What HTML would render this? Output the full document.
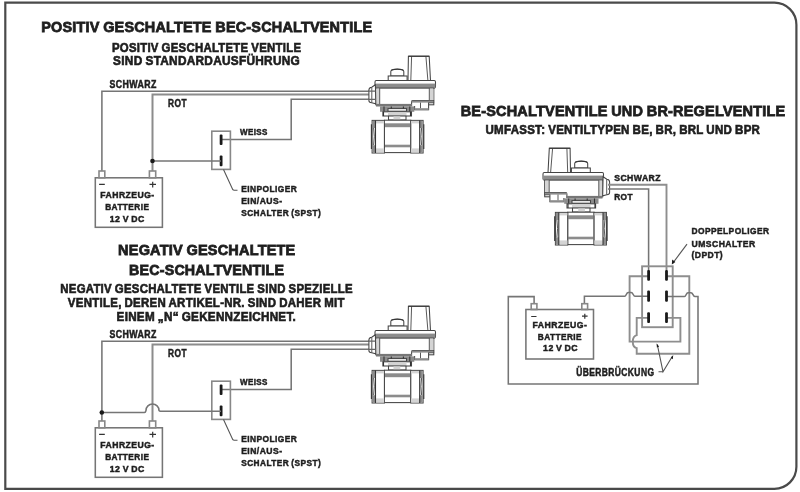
<!DOCTYPE html>
<html><head><meta charset="utf-8">
<style>
html,body{margin:0;padding:0;background:#fff;width:800px;height:492px;overflow:hidden}
svg{display:block;will-change:transform}
text{font-family:"Liberation Sans",sans-serif;font-weight:bold;fill:#1e1e1e;stroke:#1e1e1e;word-spacing:-0.6px}
.t1{font-size:15.2px;stroke-width:0.8px;letter-spacing:0.2px}
.t2{font-size:13px;stroke-width:0.65px;letter-spacing:0.3px}
.lbb{font-size:9.7px;stroke-width:0.5px;letter-spacing:0.5px}
.lbs{font-size:9.6px;stroke-width:0.5px;letter-spacing:0.5px}
.lb{font-size:10.2px;stroke-width:0.5px;letter-spacing:0.5px}
.w{fill:none;stroke:#757575;stroke-width:1.55}
.wr{fill:none;stroke:#8c8c8c;stroke-width:2}
.wk{fill:none;stroke:#666;stroke-width:1.2}
.wl{fill:none;stroke:#8e8e8e;stroke-width:1.9}
.ld{fill:none;stroke:#555;stroke-width:1.1}
.sg{fill:none;stroke:#333;stroke-width:1.2}
.wm{fill:none;stroke:#888;stroke-width:1.6}
.k{fill:#1a1a1a}
.v{stroke:#444;stroke-width:1.05;fill:#fff}
.vd{fill:#8c8c8c;stroke:none}
.vn{fill:none;stroke:#505050;stroke-width:0.95}
.vn2{fill:none;stroke:#777;stroke-width:1.2}
.vk{fill:none;stroke:#333;stroke-width:1.1}
.vl{fill:#d4d4d4;stroke:none}
.vd2{fill:#777;stroke:none}
</style></head><body>
<svg width="800" height="492" viewBox="0 0 800 492">
<defs>
<g id="valve">
  <!-- tower -->
  <path class="v" d="M408.4,56.2 H429.2 L430.5,80.6 H408 Z"/>
  <path class="vn" d="M411.6,56.2 L410.8,80.6 M425.9,56.2 L427.9,80.6"/>
  <path class="vk" d="M408.4,56.2 H429.2"/>
  <!-- knob -->
  <path class="v" d="M390.8,76 V71.5 Q390.8,68.9 397.3,68.9 Q403.8,68.9 403.8,71.5 V76 Z"/>
  <path class="vk" d="M391.2,70.2 Q397.3,68.3 403.4,70.2"/>
  <rect class="v" x="388.2" y="76" width="18.9" height="4.6"/>
  <!-- top plate -->
  <path class="v" d="M376.2,80.5 H434.2 Q435.5,80.5 435.5,82 V86.8 Q435.5,88.1 434.2,88.1 H376.2 Q375,88.1 375,86.8 V82 Q375,80.5 376.2,80.5 Z"/>
  <rect class="vd" x="375.3" y="83.6" width="60" height="4.4"/>
  <!-- body -->
  <rect class="v" x="375.8" y="88.1" width="58" height="16.7"/>
  <rect class="vl" x="376.2" y="88.6" width="3.5" height="15.8"/>
  <rect class="vl" x="429.5" y="88.6" width="4" height="12.2"/>
  <path class="vn" d="M379.7,88.1 V104.8 M429.3,88.1 V100.9"/>
  <!-- connector -->
  <path class="v" d="M375.4,84.8 L371.7,87.3 Q368.9,87.6 368.9,90 V100.4 Q368.9,102.5 371.7,102.7 L375.8,103.8 Z"/>
  <path class="vn" d="M371.8,87.4 V102.7"/>
  
  <!-- notch -->
  <path class="v" d="M411.6,106 V101.9 Q411.6,100.4 412.6,100.4 H433.6 V102.6 H428.6 V109.6 H414.6 V106"/>
  <rect class="vd" x="411.6" y="100.6" width="21.8" height="2"/>
  <rect class="vd" x="414.6" y="108.2" width="14" height="2"/>
  <path class="vn" d="M420.5,102.6 V108.2"/>
  <!-- body bottom band -->
  <rect class="vd2" x="376" y="103.9" width="36" height="2.6"/>
  <!-- bracket -->
  <rect class="vd" x="380" y="106.4" width="34.3" height="5.4"/>
  <rect class="v" x="388" y="108.6" width="18.5" height="2.6"/>
  <path class="vk" d="M384,106.4 V111.8 M391.3,106.4 V108.6 M403.4,106.4 V108.6 M409.8,106.4 V111.8"/>
  <!-- neck -->
  <rect class="v" x="382.9" y="111.8" width="28.6" height="4.2"/>
  <rect class="vl" x="388" y="112.2" width="18.5" height="3.4"/>
  <path class="vk" d="M383.5,111.8 V116 M410.5,111.8 V116"/>
  <!-- stem -->
  <rect class="v" x="388.5" y="116" width="17.5" height="4"/>
  <rect class="vl" x="393.5" y="116.4" width="6.8" height="3.2"/>
  <!-- ball body -->
  <rect class="v" x="384.4" y="120.2" width="26.4" height="32.4"/>
  <rect class="vd" x="384.8" y="123.3" width="25.6" height="3.9"/>
  <rect class="vd" x="384.8" y="144.7" width="25.6" height="2.6"/>
  <!-- left cap -->
  <rect class="v" x="372.1" y="120.4" width="12.3" height="32.6"/>
  <rect class="vl" x="375.9" y="120.9" width="8.2" height="2.5"/>
  <rect class="vl" x="375.9" y="148.4" width="8.2" height="4.2"/>
  <rect class="vd" x="372.5" y="120.8" width="3" height="7.2"/>
  <rect class="vd" x="372.5" y="145.2" width="3" height="7.4"/>
  <path class="vk" d="M371.4,124.3 V149 M375.5,120.4 V153"/>
  <path class="vn" d="M373.6,128 Q375,136.5 373.6,145"/>
  <!-- right cap -->
  <rect class="v" x="410.8" y="120.4" width="12.3" height="32.6"/>
  <rect class="vl" x="411.1" y="120.9" width="8.2" height="2.5"/>
  <rect class="vl" x="411.1" y="148.4" width="8.2" height="4.2"/>
  <rect class="vd" x="419.7" y="120.8" width="3" height="7.2"/>
  <rect class="vd" x="419.7" y="145.2" width="3" height="7.4"/>
  <path class="vk" d="M423.8,124.3 V149 M419.7,120.4 V153"/>
  <path class="vn" d="M421.6,128 Q420.2,136.5 421.6,145"/>
</g>
</defs>

<!-- border -->
<path d="M5.3,2.7 H774.4 A22,22 0 0 1 796.4,24.7 V466.8 A22,22 0 0 1 774.4,488.8 H5.3 Z" fill="none" stroke="#4a4a4a" stroke-width="2.2"/>

<!-- ===== Section 1: POSITIV ===== -->
<text class="t1" x="41.25" y="31.9" textLength="331" lengthAdjust="spacingAndGlyphs">POSITIV GESCHALTETE BEC-SCHALTVENTILE</text>
<text class="t2" x="111.9" y="51.6" textLength="189.4" lengthAdjust="spacingAndGlyphs">POSITIV GESCHALTETE VENTILE</text>
<text class="t2" x="113.1" y="65" textLength="186.9" lengthAdjust="spacingAndGlyphs">SIND STANDARDAUSFÜHRUNG</text>

<g id="diag1">
<text class="lb" x="109.4" y="87.5" textLength="47.5" lengthAdjust="spacingAndGlyphs">SCHWARZ</text>
<text class="lb" x="168.1" y="107.3" textLength="18.8" lengthAdjust="spacingAndGlyphs">ROT</text>
<text class="lbs" x="239.9" y="134.9" textLength="28" lengthAdjust="spacingAndGlyphs">WEISS</text>
<text class="lbs" x="241.2" y="192.4" textLength="56" lengthAdjust="spacingAndGlyphs">EINPOLIGER</text>
<text class="lbs" x="241.2" y="204.3" textLength="41.3" lengthAdjust="spacingAndGlyphs">EIN/AUS-</text>
<text class="lbs" x="241.2" y="216" textLength="79.9" lengthAdjust="spacingAndGlyphs">SCHALTER (SPST)</text>
<text class="lbb" x="100.3" y="198" textLength="54.4" lengthAdjust="spacingAndGlyphs">FAHRZEUG-</text>
<text class="lbb" x="105.2" y="210.2" textLength="44.2" lengthAdjust="spacingAndGlyphs">BATTERIE</text>
<text class="lbb" x="109.8" y="221.5" textLength="35" lengthAdjust="spacingAndGlyphs">12 V DC</text>
<path class="w" d="M101.9,171 V91.2 H370 M222,139.5 H291.2 V99.3 H370"/>
<path class="wr" d="M152.5,171 V94.4 H370"/>
<!-- switch -->
<rect class="wm" x="211.8" y="131.2" width="18.6" height="38.2"/>
<rect class="k" x="219.7" y="134.4" width="2.8" height="10.6" rx="1"/>
<rect class="k" x="219.7" y="155.4" width="2.8" height="10.9" rx="1"/>
<path class="ld" d="M223.5,169.6 L232.8,189.7 Q233.3,190.3 234.2,190.3 H237.5"/>
<!-- battery -->
<rect class="w" x="95.3" y="177.8" width="67.1" height="49.5"/>
<rect class="wm" x="99" y="171" width="5.8" height="6.8"/>
<rect class="wm" x="149.4" y="171" width="6.3" height="6.8"/>
<path class="sg" d="M99.1,184.4 H104.8 M149.5,184.4 H156 M152.7,181.7 V187.4"/>
</g>
<path class="w" d="M152.5,161 H221"/>
<circle class="k" cx="152.5" cy="161" r="2.3"/>
<use href="#valve"/>
<path class="wk" d="M368,91.2 H375.4 M368,99.3 H375.4"/>

<!-- ===== Section 2: NEGATIV ===== -->
<text class="t1" x="118.1" y="255.4" textLength="177.4" lengthAdjust="spacingAndGlyphs">NEGATIV GESCHALTETE</text>
<text class="t1" x="129.1" y="274.6" textLength="155" lengthAdjust="spacingAndGlyphs">BEC-SCHALTVENTILE</text>
<text class="t2" x="60.3" y="293.2" textLength="292.6" lengthAdjust="spacingAndGlyphs">NEGATIV GESCHALTETE VENTILE SIND SPEZIELLE</text>
<text class="t2" x="67.8" y="307.3" textLength="277" lengthAdjust="spacingAndGlyphs">VENTILE, DEREN ARTIKEL-NR. SIND DAHER MIT</text>
<text class="t2" x="116.6" y="321" textLength="179.4" lengthAdjust="spacingAndGlyphs">EINEM „N“ GEKENNZEICHNET.</text>
<use href="#diag1" transform="translate(0,250)"/>
<path class="w" d="M101.8,412.5 H144.5 Q145.5,412.5 146,410.5 A6.5,6.5 0 0 1 159,410.5 Q159.5,411.2 160.5,411.2 H221"/>
<circle class="k" cx="101.8" cy="412.5" r="2.3"/>
<use href="#valve" transform="translate(0,250)"/>
<path class="wk" d="M368,341.2 H375.4 M368,349.3 H375.4"/>

<!-- ===== Section 3: BE / BR ===== -->
<text class="t1" x="460.7" y="115.5" textLength="324.7" lengthAdjust="spacingAndGlyphs">BE-SCHALTVENTILE UND BR-REGELVENTILE</text>
<text class="t2" x="485.5" y="134.2" textLength="274.7" lengthAdjust="spacingAndGlyphs">UMFASST: VENTILTYPEN BE, BR, BRL UND BPR</text>
<use href="#valve" transform="translate(978.5,92) scale(-1,1)"/>
<text class="lbs" x="614.2" y="181.3" textLength="46.8" lengthAdjust="spacingAndGlyphs">SCHWARZ</text>
<text class="lbs" x="614.2" y="199.6" textLength="18.8" lengthAdjust="spacingAndGlyphs">ROT</text>
<text class="lbs" x="691.5" y="234" textLength="77.9" lengthAdjust="spacingAndGlyphs">DOPPELPOLIGER</text>
<text class="lbs" x="691.5" y="246.5" textLength="64.1" lengthAdjust="spacingAndGlyphs">UMSCHALTER</text>
<text class="lbs" x="691.5" y="258" textLength="31.6" lengthAdjust="spacingAndGlyphs">(DPDT)</text>
<text class="lb" x="576.2" y="375.8" textLength="78.2" lengthAdjust="spacingAndGlyphs">ÜBERBRÜCKUNG</text>
<!-- wires -->
<path class="wl" d="M608,184.8 H666.5 V270"/>
<path class="w" d="M608,188.9 H648.6 V270"/>
<path class="ld" d="M687,244.2 L672.6,263.3"/>
<path class="k" d="M671.8,264.4 L672.2,259.6 L675.4,261.9 Z"/>
<rect class="wl" x="642.1" y="266.3" width="30.6" height="60.9"/>
<path class="wl" d="M648.6,276.3 H629.6 V341.6 H680.4 V317.9 H666.5"/>
<path class="wl" d="M666.5,276.3 H689.3 V353.8 H636.7 V348.1 C631.5,347 631.5,336.5 636.7,335.2 V317.9 H648.6"/>
<path class="w" d="M584.4,303.7 V296.3 H624.7 C626.3,296.3 626.3,292.5 628.2,292.5 H631.2 C633.2,292.5 633.2,296.3 635,296.3 H648.6"/>
<path class="w" d="M666.5,296.5 H684.5 C686.1,296.5 686.1,292.7 688,292.7 H691 C693,292.7 693,296.5 694.8,296.5 H698 V384 H508.3 V296.6 H534.1 V303.7"/>
<rect class="k" x="647.2" y="270.1" width="2.8" height="10.7" rx="1"/>
<rect class="k" x="665.1" y="270.1" width="2.8" height="10.7" rx="1"/>
<rect class="k" x="647.2" y="290.6" width="2.8" height="11.2" rx="1"/>
<rect class="k" x="665.1" y="290.6" width="2.8" height="11.2" rx="1"/>
<rect class="k" x="647.2" y="312.2" width="2.8" height="10.8" rx="1"/>
<rect class="k" x="665.1" y="312.2" width="2.8" height="10.8" rx="1"/>
<path class="ld" d="M657.3,344.5 L663,371.7 L672.4,356.3 M658.5,371.7 H663"/>
<path class="k" d="M656.6,343.4 L659.1,346.6 L656.9,347.5 Z M673.2,355.1 L672.8,359.2 L670.9,358 Z"/>
<!-- battery right -->
<rect class="w" x="525.9" y="309.5" width="67.6" height="49.5"/>
<rect class="wm" x="531.2" y="303.7" width="5.7" height="5.8"/>
<rect class="wm" x="581.8" y="303.7" width="5.8" height="5.8"/>
<path class="sg" d="M531.2,316.5 H536.5 M582,316.1 H587.6 M584.8,313.7 V318.7"/>
<text class="lbb" x="532.5" y="327.7" textLength="54.8" lengthAdjust="spacingAndGlyphs">FAHRZEUG-</text>
<text class="lbb" x="537.8" y="339.6" textLength="44.2" lengthAdjust="spacingAndGlyphs">BATTERIE</text>
<text class="lbb" x="543.1" y="351.1" textLength="35" lengthAdjust="spacingAndGlyphs">12 V DC</text>
</svg>
</body></html>
